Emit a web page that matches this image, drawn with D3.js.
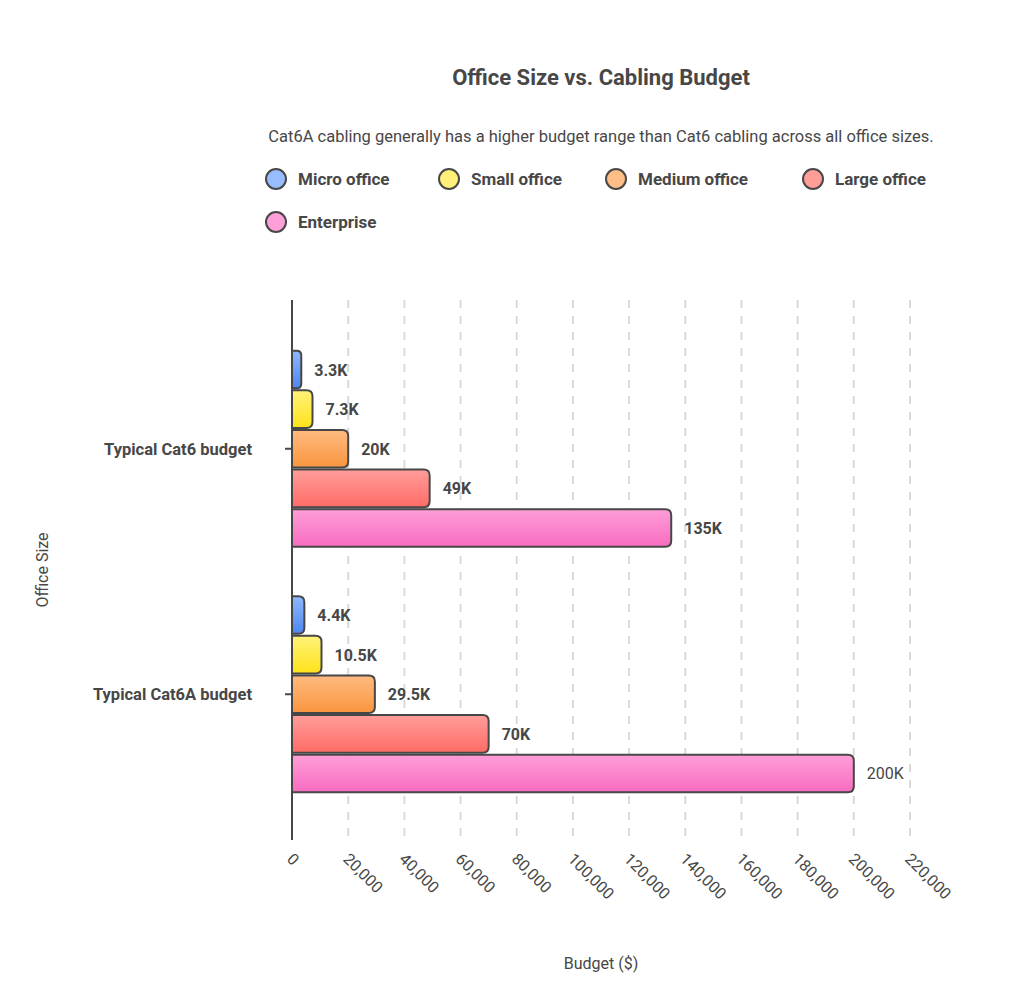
<!DOCTYPE html>
<html><head><meta charset="utf-8">
<script src="https://cdn.jsdelivr.net/npm/d3@7"></script>
<style>body{margin:0;background:#fff;font-family:Roboto,"Noto Sans",sans-serif;}</style>
</head><body><svg id="c" width="1024" height="987"></svg>
<script>
const categories = ["Typical Cat6 budget", "Typical Cat6A budget"];
const series = ["Micro office", "Small office", "Medium office", "Large office", "Enterprise"];
const values = {
  "Typical Cat6 budget": [3300, 7300, 20000, 49000, 135000],
  "Typical Cat6A budget": [4400, 10500, 29500, 70000, 200000]
};
const labels = {
  "Typical Cat6 budget": ["3.3K", "7.3K", "20K", "49K", "135K"],
  "Typical Cat6A budget": ["4.4K", "10.5K", "29.5K", "70K", "200K"]
};
const ticks = d3.range(0, 220001, 20000);
const topColors = ["#8fb8ff", "#fff27a", "#ffbb80", "#ff9d9a", "#ff9ed8"];
const botColors = ["#4d86f0", "#ffe21a", "#f9953f", "#ff6b66", "#f76cc0"];
const legendColors = ["#98bdff", "#fff07a", "#ffbe85", "#ff9d99", "#ff9fd9"];

const svg = d3.select("#c");
const ink = "#474747";
const x = d3.scaleLinear().domain([0, 220000]).range([292, 910]);
const y = d3.scaleBand().domain(categories).range([326, 817]);
const inner = d3.scaleBand().domain(series).range([-98, 98]).paddingInner(0.05);

const defs = svg.append("defs");
series.forEach((s, i) => {
  const g = defs.append("linearGradient").attr("id", "g" + i).attr("x1", 0).attr("x2", 0).attr("y1", 0).attr("y2", 1);
  g.append("stop").attr("offset", 0).attr("stop-color", topColors[i]);
  g.append("stop").attr("offset", 1).attr("stop-color", botColors[i]);
});

svg.append("text").attr("x", 601).attr("y", 85).attr("text-anchor", "middle")
  .attr("font-size", 22).attr("font-weight", 700).attr("fill", ink).text("Office Size vs. Cabling Budget");
svg.append("text").attr("x", 601).attr("y", 142).attr("text-anchor", "middle")
  .attr("font-size", 16.5).attr("fill", ink)
  .text("Cat6A cabling generally has a higher budget range than Cat6 cabling across all office sizes.");

const legendPos = [[276, 179], [449, 179], [616, 179], [813, 179], [276, 222]];
series.forEach((s, i) => {
  const [lx, ly] = legendPos[i];
  svg.append("circle").attr("cx", lx).attr("cy", ly).attr("r", 10)
    .attr("fill", legendColors[i]).attr("stroke", ink).attr("stroke-width", 2);
  svg.append("text").attr("x", lx + 22).attr("y", ly + 6).attr("font-size", 17)
    .attr("font-weight", 700).attr("fill", ink).text(s);
});

// grid
svg.append("g").selectAll("line").data(ticks.slice(1)).join("line")
  .attr("x1", d => x(d)).attr("x2", d => x(d)).attr("y1", 300).attr("y2", 840)
  .attr("stroke", "#d9d9d9").attr("stroke-width", 2).attr("stroke-dasharray", "8,8");

// bars
categories.forEach(c => {
  const g = svg.append("g").attr("transform", `translate(0,${y(c) + y.bandwidth() / 2})`);
  series.forEach((s, i) => {
    const v = values[c][i];
    g.append("path")
      .attr("d", () => {
        const x0 = x(0), x1 = x(v), y0 = inner(s), h = inner.bandwidth(), r = Math.min(6, (x1 - x0) / 2);
        return `M${x0},${y0}H${x1 - r}Q${x1},${y0} ${x1},${y0 + r}V${y0 + h - r}Q${x1},${y0 + h} ${x1 - r},${y0 + h}H${x0}Z`;
      })
      .attr("fill", `url(#g${i})`).attr("stroke", ink).attr("stroke-width", 2);
    const big = v === 200000;
    g.append("text").attr("x", x(v) + 13).attr("y", inner(s) + inner.bandwidth() / 2 + 6)
      .attr("font-size", 16).attr("font-weight", big ? 400 : 700).attr("fill", ink).text(labels[c][i]);
  });
});

// y axis
svg.append("line").attr("x1", 292).attr("x2", 292).attr("y1", 300).attr("y2", 840).attr("stroke", ink).attr("stroke-width", 2);
categories.forEach(c => {
  const cy = y(c) + y.bandwidth() / 2;
  svg.append("line").attr("x1", 285).attr("x2", 292).attr("y1", cy).attr("y2", cy).attr("stroke", ink).attr("stroke-width", 2);
  svg.append("text").attr("x", 252).attr("y", cy + 6).attr("text-anchor", "end")
    .attr("font-size", 16.5).attr("font-weight", 700).attr("fill", ink).text(c);
});

// x tick labels
svg.append("g").selectAll("text").data(ticks).join("text")
  .attr("transform", d => `translate(${x(d) - 6},${860}) rotate(45)`)
  .attr("font-size", 16).attr("fill", ink).text(d => d3.format(",")(d));

svg.append("text").attr("x", 601).attr("y", 969).attr("text-anchor", "middle")
  .attr("font-size", 16).attr("fill", ink).text("Budget ($)");
svg.append("text").attr("transform", "translate(48,570) rotate(-90)").attr("text-anchor", "middle")
  .attr("font-size", 16).attr("fill", ink).text("Office Size");
</script></body></html>
